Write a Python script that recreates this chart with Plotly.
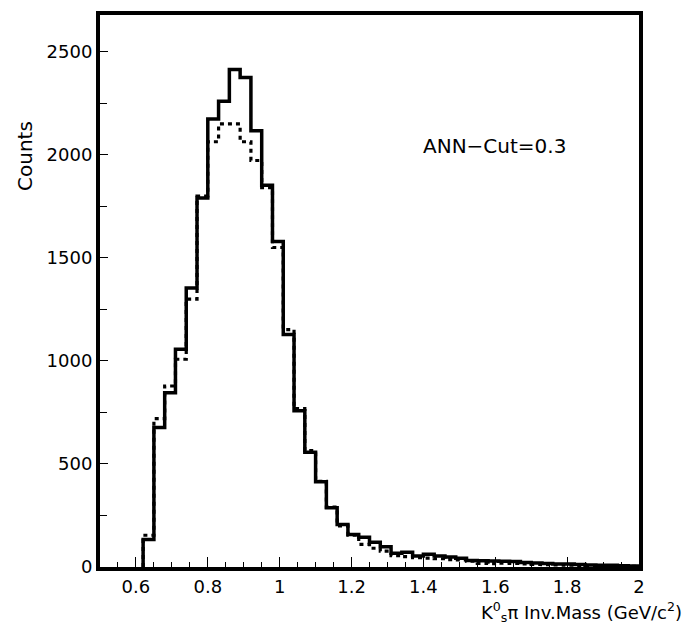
import plotly.graph_objects as go

# Bin lower edges (GeV/c^2), bin width 0.03
bin_edges = [0.62, 0.65, 0.68, 0.71, 0.74, 0.77, 0.80, 0.83, 0.86, 0.89,
             0.92, 0.95, 0.98, 1.01, 1.04, 1.07, 1.10, 1.13, 1.16, 1.19,
             1.22, 1.25, 1.28, 1.31, 1.34, 1.37, 1.40, 1.43, 1.46, 1.49,
             1.52, 1.55, 1.58, 1.61, 1.64, 1.67, 1.70, 1.73, 1.76, 1.79,
             1.82, 1.85, 1.88, 1.91, 1.94, 1.97]
bin_width = 0.03

counts_solid = [134, 677, 845, 1056, 1353, 1790, 2174, 2260, 2414, 2375,
                2116, 1852, 1579, 1128, 758, 557, 413, 288, 206, 158,
                144, 120, 98, 67, 72, 53, 62, 53, 48, 43,
                32, 30, 29, 28, 27, 22, 19, 17, 15, 14,
                12, 10, 9, 8, 6, 5]

counts_dashed = [154, 720, 878, 1008, 1300, 1800, 2063, 2150, 2150, 2063,
                 1972, 1840, 1550, 1152, 768, 565, 415, 290, 200, 155,
                 110, 91, 77, 55, 50, 45, 43, 40, 36, 34,
                 28, 18, 16, 19, 18, 15, 13, 12, 10, 9,
                 8, 7, 6, 5, 4, 3]

annotation_text = "ANN\u2212Cut=0.3"
x_title = "K<sup>0</sup><sub>s</sub>\u03c0 Inv.Mass (GeV/c<sup>2</sup>)"
y_title = "Counts"


def step_xy(edges, counts, width):
    xs = [edges[0]] + list(edges) + [edges[-1] + width]
    ys = [0] + list(counts) + [counts[-1]]
    return xs, ys


FONT = "DejaVu Sans, Arial, sans-serif"

fig = go.Figure()
xd, yd = step_xy(bin_edges, counts_dashed, bin_width)
fig.add_trace(go.Scatter(x=xd, y=yd, mode="lines", line_shape="hv",
                         line=dict(color="black", width=3.2, dash="4px,4px"),
                         showlegend=False, hoverinfo="skip"))
xs, ys = step_xy(bin_edges, counts_solid, bin_width)
fig.add_trace(go.Scatter(x=xs, y=ys, mode="lines", line_shape="hv",
                         line=dict(color="black", width=3.5),
                         showlegend=False, hoverinfo="skip"))

fig.update_layout(
    width=699, height=626,
    margin=dict(l=100, r=60, t=11, b=59),
    paper_bgcolor="white", plot_bgcolor="white",
    font=dict(family=FONT, size=18, color="black"),
    xaxis=dict(range=[0.5, 2.0], showline=True, linewidth=4, linecolor="black",
               mirror=True, showgrid=False, zeroline=False,
               tick0=0.6, dtick=0.2, ticks="inside", ticklen=10, tickwidth=1,
               tickcolor="black", ticklabelstandoff=0,
               minor=dict(dtick=0.05, tick0=0.5, ticks="inside", ticklen=5,
                          tickwidth=1, tickcolor="black", showgrid=False),
               tickfont=dict(size=18, family=FONT)),
    yaxis=dict(range=[0, 2678], showline=True, linewidth=4, linecolor="black",
               mirror=True, showgrid=False, zeroline=False,
               tick0=0, dtick=500, ticks="inside", ticklen=8, tickwidth=1,
               tickcolor="black",
               minor=dict(dtick=250, ticks="inside", ticklen=7, tickwidth=1,
                          tickcolor="black", showgrid=False),
               tickfont=dict(size=18, family=FONT)),
)

fig.add_annotation(text=annotation_text, xref="paper", yref="paper",
                   x=(494 - 100) / 539, y=(567 - 143) / 556,
                   xanchor="center", yanchor="middle", showarrow=False,
                   font=dict(size=20, family=FONT, color="black"))
fig.add_annotation(text=x_title, xref="paper", yref="paper",
                   x=(684 - 100) / 539, y=-(612 - 567) / 556,
                   xanchor="right", yanchor="middle", showarrow=False,
                   font=dict(size=18, family=FONT, color="black"))
fig.add_annotation(text=y_title, xref="paper", yref="paper",
                   x=-(100 - 25) / 539, y=(567 - 153) / 556,
                   xanchor="center", yanchor="middle", textangle=-90,
                   showarrow=False,
                   font=dict(size=20, family=FONT, color="black"))

fig.write_html("out.html")
